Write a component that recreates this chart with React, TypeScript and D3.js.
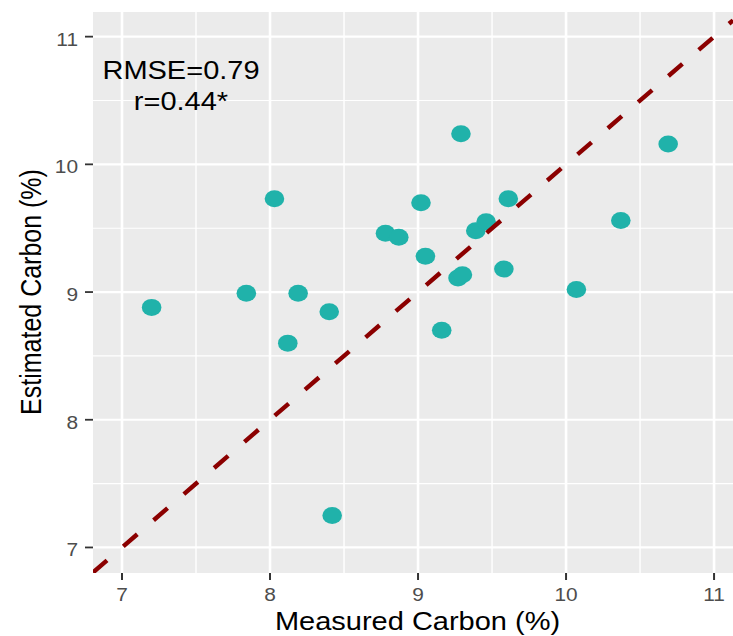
import React, { useRef, useEffect } from 'react';
import * as d3 from 'd3';

// measured vs estimated carbon (%)
const measured = [7.2, 7.84, 8.03, 8.19, 8.12, 8.4, 8.42, 8.78, 8.87, 9.02, 9.05, 9.16, 9.27, 9.3, 9.29, 9.39, 9.46, 9.61, 9.58, 10.07, 10.37, 10.69];
const estimated = [8.88, 8.99, 9.73, 8.99, 8.6, 8.845, 7.25, 9.46, 9.43, 9.7, 9.28, 8.7, 9.11, 9.135, 10.24, 9.48, 9.55, 9.73, 9.18, 9.02, 9.56, 10.16];
const majorTicks = [7, 8, 9, 10, 11];
const minorTicks = [7.5, 8.5, 9.5, 10.5];
const statLines = ['RMSE=0.79', 'r=0.44*'];

const App = () => {
  const svgRef = useRef<SVGSVGElement>(null);
  const width = 733;
  const height = 636;

  useEffect(() => {
    const panel = { left: 93, right: 733, top: 12, bottom: 573 };
    const sx = 1.16; // the original picture is stretched sideways
    const font = '"Liberation Sans", Arial, sans-serif';

    const svg = d3.select(svgRef.current).html('');

    const x = d3.scaleLinear().domain([6.804, 11.128]).range([panel.left, panel.right]);
    const y = d3.scaleLinear().domain([6.8, 11.193]).range([panel.bottom, panel.top]);

    // --- Panel ---
    svg.append('rect')
      .attr('x', panel.left).attr('y', panel.top)
      .attr('width', panel.right - panel.left).attr('height', panel.bottom - panel.top)
      .attr('fill', '#EBEBEB');

    const grid = svg.append('g');
    minorTicks.forEach(t => {
      grid.append('line').attr('x1', x(t)).attr('x2', x(t)).attr('y1', panel.top).attr('y2', panel.bottom)
        .attr('stroke', '#fff').attr('stroke-width', 1.4);
      grid.append('line').attr('y1', y(t)).attr('y2', y(t)).attr('x1', panel.left).attr('x2', panel.right)
        .attr('stroke', '#fff').attr('stroke-width', 1.1);
    });
    majorTicks.forEach(t => {
      grid.append('line').attr('x1', x(t)).attr('x2', x(t)).attr('y1', panel.top).attr('y2', panel.bottom)
        .attr('stroke', '#fff').attr('stroke-width', 2.6);
      grid.append('line').attr('y1', y(t)).attr('y2', y(t)).attr('x1', panel.left).attr('x2', panel.right)
        .attr('stroke', '#fff').attr('stroke-width', 2.2);
    });

    // --- Points ---
    const pts = d3.zip(measured, estimated);
    svg.append('g').selectAll('ellipse').data(pts).join('ellipse')
      .attr('cx', d => x(d[0]))
      .attr('cy', d => y(d[1]))
      .attr('rx', 9.8)
      .attr('ry', 8.5)
      .attr('fill', '#20B2AA');

    // --- 1:1 line ---
    svg.append('clipPath').attr('id', 'panel-clip').append('rect')
      .attr('x', panel.left).attr('y', panel.top)
      .attr('width', panel.right - panel.left).attr('height', panel.bottom - panel.top);
    const [lo, hi] = x.domain();
    svg.append('line')
      .attr('clip-path', 'url(#panel-clip)')
      .attr('x1', x(lo)).attr('y1', y(lo))
      .attr('x2', x(hi)).attr('y2', y(hi))
      .attr('stroke', '#8B0000')
      .attr('stroke-width', 4.4)
      .attr('stroke-dasharray', '18.5 21.5');

    // --- Annotation ---
    statLines.forEach((s, i) => {
      svg.append('text')
        .attr('transform', `translate(181,${79 + i * 31}) scale(${sx},1)`)
        .attr('text-anchor', 'middle')
        .style('font-family', font).style('font-size', '25px').style('fill', '#000')
        .text(s);
    });

    // --- Axes ---
    const ax = svg.append('g');
    majorTicks.forEach(t => {
      ax.append('line').attr('x1', 85).attr('x2', panel.left).attr('y1', y(t)).attr('y2', y(t))
        .attr('stroke', '#333').attr('stroke-width', 1.8);
      ax.append('text')
        .attr('transform', `translate(78,${y(t) + 9}) scale(${sx},1)`)
        .attr('text-anchor', 'end')
        .style('font-family', font).style('font-size', '18px').style('fill', '#4D4D4D')
        .text(d3.format('d')(t));
      ax.append('line').attr('x1', x(t)).attr('x2', x(t)).attr('y1', panel.bottom).attr('y2', panel.bottom + 7)
        .attr('stroke', '#333').attr('stroke-width', 2);
      ax.append('text')
        .attr('transform', `translate(${x(t)},601) scale(${sx},1)`)
        .attr('text-anchor', 'middle')
        .style('font-family', font).style('font-size', '18px').style('fill', '#4D4D4D')
        .text(d3.format('d')(t));
    });

    // Axis titles
    svg.append('text')
      .attr('transform', `translate(417.5,630) scale(${sx},1)`)
      .attr('text-anchor', 'middle')
      .style('font-family', font).style('font-size', '25px').style('fill', '#000')
      .text('Measured Carbon (%)');

    svg.append('text')
      .attr('transform', `translate(41,292) scale(${sx},1) rotate(-90)`)
      .attr('text-anchor', 'middle')
      .style('font-family', font).style('font-size', '25px').style('fill', '#000')
      .text('Estimated Carbon (%)');
  }, []);

  return (
    <svg ref={svgRef} width={width} height={height}
      style={{ position: 'absolute', left: 0, top: 0, background: '#fff' }}></svg>
  );
};

export default App;
